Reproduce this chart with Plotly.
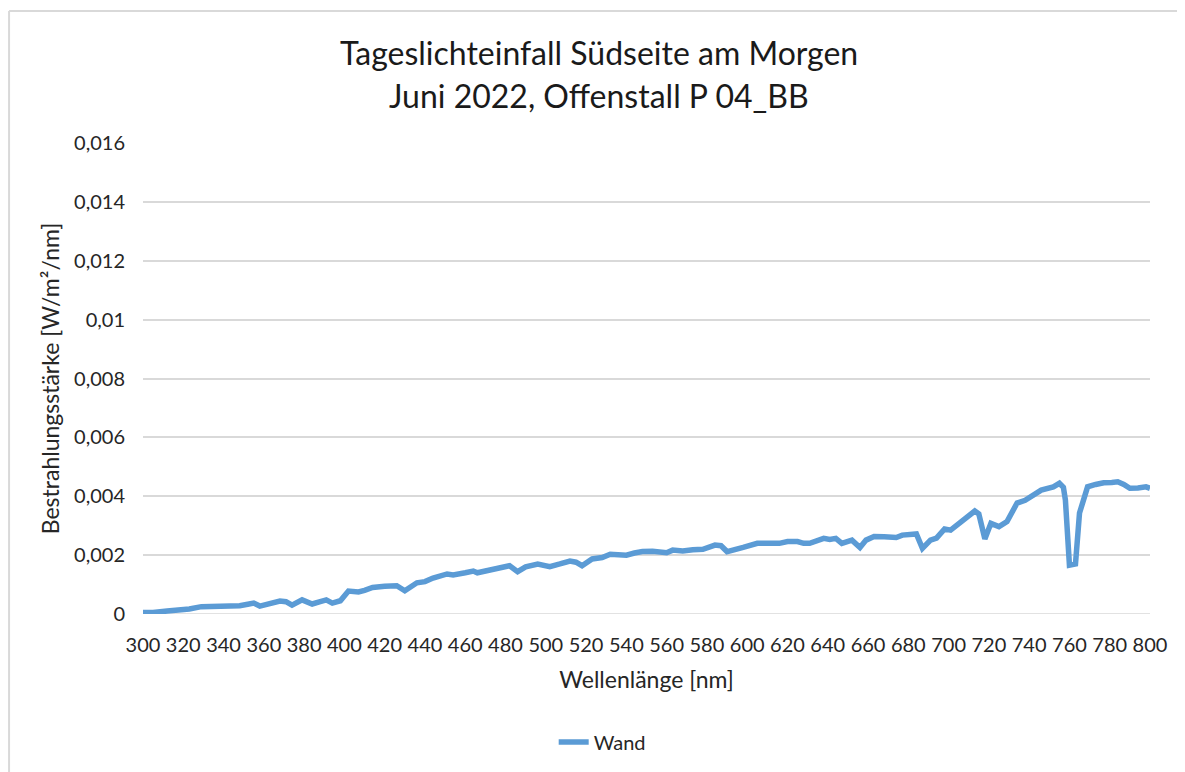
import plotly.graph_objects as go

# Wellenlänge [nm] und Bestrahlungsstärke [W/m²/nm]
wellenlaenge = [
    300, 305, 312, 318, 323, 329, 335, 341, 348, 352, 355, 358, 363, 368, 371,
    374, 379, 384, 388, 391, 394, 398, 402, 407, 410, 414, 420, 426, 430, 436,
    440, 444, 451, 454, 460, 464, 466, 474, 479, 482, 486, 490, 496, 502, 507,
    512, 515, 518, 523, 528, 532, 536, 540, 544, 548, 553, 558, 560, 563, 568,
    573, 578, 584, 587, 590, 594, 598, 605, 610, 616, 620, 625, 628, 631, 638,
    641, 644, 647, 652, 656, 659, 663, 668, 674, 677, 684, 687, 691, 694, 698,
    701, 706, 710, 713, 715, 718, 721, 725, 729, 734, 738, 742, 746, 752, 755,
    757, 758, 760, 763, 765, 769, 773, 777, 781, 784, 787, 790, 794, 798, 800,
]
wand = [
    0.00005, 0.00005, 0.0001, 0.00012, 0.00017, 0.00025, 0.00025, 0.00027,
    0.00028, 0.00033, 0.00037, 0.00027, 0.00035, 0.00044, 0.00042, 0.0003,
    0.00048, 0.00034, 0.00042, 0.00048, 0.00037, 0.00045, 0.00078, 0.00075,
    0.0008, 0.0009, 0.00094, 0.00096, 0.00079, 0.00106, 0.0011, 0.00122,
    0.00136, 0.00133, 0.0014, 0.00146, 0.0014, 0.0015, 0.0016, 0.00164,
    0.00144, 0.0016, 0.0017, 0.00161, 0.0017, 0.0018, 0.00176, 0.00164,
    0.00187, 0.00192, 0.00203, 0.00202, 0.002, 0.00207, 0.00212, 0.00213,
    0.00212, 0.00208, 0.00217, 0.00214, 0.00218, 0.0022, 0.00234, 0.00232,
    0.00212, 0.00218, 0.00226, 0.0024, 0.0024, 0.0024, 0.00246, 0.00246,
    0.0024, 0.0024, 0.00257, 0.00253, 0.00257, 0.0024, 0.00251, 0.00226,
    0.00251, 0.00263, 0.00262, 0.0026, 0.00268, 0.00272, 0.00223, 0.00251,
    0.00258, 0.00289, 0.00285, 0.00314, 0.00332, 0.0035, 0.0034, 0.00255,
    0.00308, 0.00297, 0.00314, 0.00377, 0.00386, 0.00405, 0.00421, 0.00432,
    0.00444, 0.0043, 0.00387, 0.00166, 0.0017, 0.00343, 0.00432, 0.0044,
    0.00446, 0.00447, 0.00449, 0.0044, 0.00427, 0.00428, 0.00432, 0.00427,
]

x_ticks = list(range(300, 801, 20))
y_ticks = [0, 0.002, 0.004, 0.006, 0.008, 0.01, 0.012, 0.014, 0.016]
y_ticktext = ["0", "0,002", "0,004", "0,006", "0,008", "0,01", "0,012", "0,014", "0,016"]

FONT = "Lato, Open Sans, sans-serif"
TEXT = "#262626"

fig = go.Figure()
fig.add_trace(
    go.Scatter(
        x=wellenlaenge,
        y=wand,
        mode="lines",
        name="Wand",
        line=dict(color="#5B9BD5", width=5.5),
    )
)

fig.update_layout(
    width=1185,
    height=772,
    # page has an 8px body margin, so the plot area is shifted by that
    margin=dict(l=135, r=43, t=135, b=166),
    paper_bgcolor="white",
    plot_bgcolor="white",
    font=dict(family=FONT, color=TEXT, size=20),
    showlegend=True,
    legend=dict(
        orientation="h",
        x=0.456,
        xanchor="center",
        y=-0.272,
        yanchor="middle",
        font=dict(size=20, color=TEXT),
    ),
    xaxis=dict(
        range=[300, 800],
        tickvals=x_ticks,
        showgrid=False,
        zeroline=False,
        showline=False,
        ticks="",
        ticklabelstandoff=17,
        tickfont=dict(size=20, color=TEXT),
        title=dict(text="Wellenlänge [nm]", font=dict(size=23, color=TEXT), standoff=16),
    ),
    yaxis=dict(
        range=[0, 0.016],
        tickvals=y_ticks,
        ticktext=y_ticktext,
        showgrid=True,
        gridcolor="#D9D9D9",
        gridwidth=1.5,
        zeroline=False,
        showline=False,
        ticks="",
        ticklabelstandoff=17,
        tickfont=dict(size=20, color=TEXT),
        title=dict(text="Bestrahlungsstärke [W/m²/nm]", font=dict(size=23, color=TEXT), standoff=7),
    ),
    annotations=[
        dict(text="Tageslichteinfall Südseite am Morgen", xref="paper", yref="paper",
             x=0.453, y=(614 - 52) / 471, xanchor="center", yanchor="middle",
             showarrow=False, font=dict(size=32, color="#1a1a1a")),
        dict(text="Juni 2022, Offenstall P 04_BB", xref="paper", yref="paper",
             x=0.453, y=(614 - 95) / 471, xanchor="center", yanchor="middle",
             showarrow=False, font=dict(size=32, color="#1a1a1a")),
    ],
    shapes=[
        # Rahmen des Diagrammbereichs (links und oben)
        dict(type="line", xref="paper", yref="paper", x0=-0.133, x1=1.05,
             y0=1.28, y1=1.28, line=dict(color="#D9D9D9", width=2)),
        dict(type="line", xref="paper", yref="paper", x0=-0.133, x1=-0.133,
             y0=1.28, y1=-0.4, line=dict(color="#D9D9D9", width=2)),
        # Nulllinie
        dict(type="line", xref="paper", yref="y", x0=0, x1=1, y0=0, y1=0,
             line=dict(color="#D9D9D9", width=1.5), layer="below"),
    ],
)

fig.write_html("out.html")
